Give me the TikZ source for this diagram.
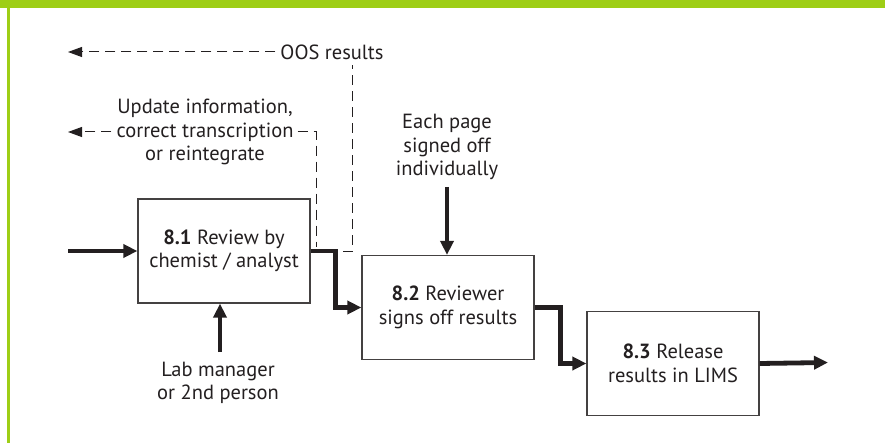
\documentclass[tikz,border=0pt]{standalone}
\usepackage{fontspec}
\setmainfont{PT Sans}
\usetikzlibrary{arrows.meta}
\definecolor{lime}{RGB}{158,206,22}
\definecolor{ink}{RGB}{35,31,32}
\begin{document}
\begin{tikzpicture}[x=1pt,y=-1pt,
  every node/.style={font=\fontsize{20.5}{23.5}\selectfont, text=ink, inner sep=0pt},
  procbox/.style={draw=ink!85, line width=1.2pt, minimum width=172pt, minimum height=104pt, align=center},
  flow/.style={draw=ink, line width=4.8pt, -{Triangle[length=14pt,width=13pt]}},
  feedback/.style={draw=ink, line width=1pt, dash pattern=on 10pt off 6pt},
  fbarrow/.style={feedback, -{Triangle[length=14pt,width=10pt]}},
  lbl/.style={align=center}]
\useasboundingbox (0,0) rectangle (885,443);
\fill[lime] (0,0) rectangle (885,8);
\fill[lime] (7,8) rectangle (10,443);

\node[procbox] (b1) at (224,251) {\textbf{8.1} Review by\\chemist / analyst};
\node[procbox] (b2) at (448,307.5) {\textbf{8.2} Reviewer\\signs off results};
\node[procbox] (b3) at (673,363.5) {\textbf{8.3} Release\\results in LIMS};

\node[lbl] (oos) at (332,52) {OOS results};
\node[lbl] (upd) at (205,132) {Update information,\\correct transcription\\or reintegrate};
\node[lbl] (each) at (447,147) {Each page\\signed off\\individually};
\node[lbl] (lab) at (218,383) {Lab manager\\or 2nd person};

\coordinate (in) at (68,251);
\coordinate (out) at (828,362.5);
\coordinate (labtop) at (220,352);
\coordinate (eachbot) at (447,187);
\coordinate (oosend) at (68,52);
\coordinate (updend) at (68,132);
\coordinate (oosfoot) at (343,252);
\coordinate (oostop) at (352,65);
\coordinate (updfoot) at (316,247);

\draw[flow] (in) -- (b1.west);
\draw[flow] (b1.east) -- ++(25,0) |- (b2.west);
\draw[flow] (b2.east) -- ++(26,0) |- (b3.west);
\draw[flow] (b3.east) -- (out);
\draw[flow] (labtop) -- (labtop |- b1.south);
\draw[flow] (eachbot) -- (eachbot |- b2.north);

\draw[fbarrow] ([xshift=-5pt]oos.west) -- (oosend);
\draw[feedback] (oosfoot) -| (oostop);
\draw[fbarrow] ([xshift=-5pt]upd.west) -- (updend);
\draw[feedback] ([xshift=4pt]upd.east) -| (updfoot);
\end{tikzpicture}
\end{document}
